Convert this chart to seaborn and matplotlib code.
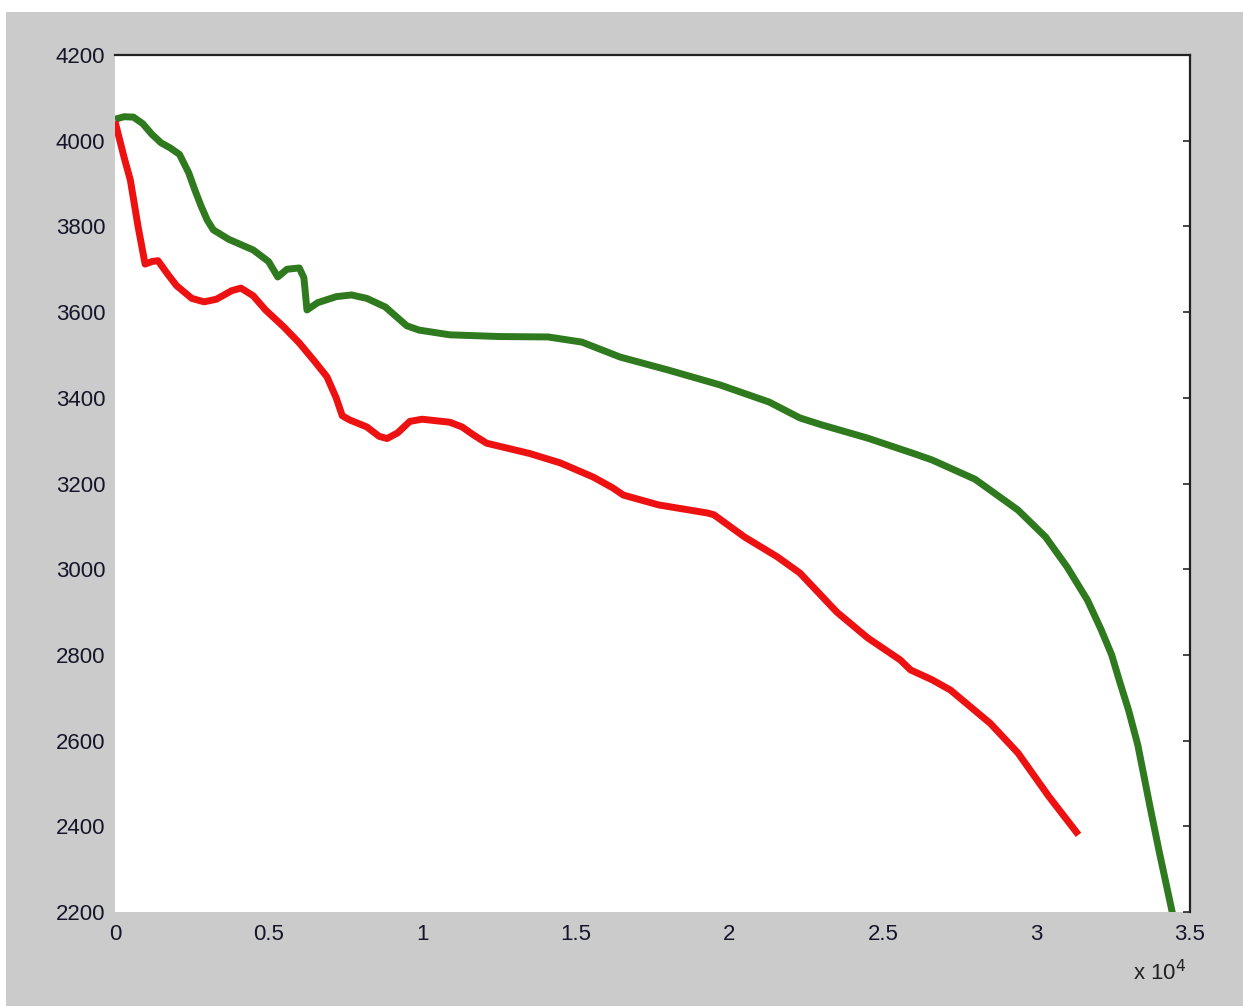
import matplotlib
matplotlib.use("Agg")
import matplotlib.pyplot as plt
import seaborn as sns
import pandas as pd
from matplotlib.patches import Rectangle

# ---- data (x in raw units; axis shows x 10^4) ----
green_x = [0.00, 0.03, 0.06, 0.09, 0.12, 0.15, 0.18, 0.21, 0.24, 0.26, 0.28, 0.30, 0.32, 0.37,
           0.45, 0.50, 0.53, 0.56, 0.60, 0.615, 0.625, 0.66, 0.72, 0.77, 0.82, 0.88, 0.95, 0.99,
           1.09, 1.25, 1.41, 1.52, 1.645, 1.80, 1.97, 2.13, 2.23, 2.30, 2.45, 2.60, 2.66, 2.80,
           2.94, 3.03, 3.10, 3.166, 3.21, 3.245, 3.27, 3.30, 3.33, 3.37, 3.40, 3.445]
green_y = [4050, 4056, 4055, 4040, 4015, 3995, 3983, 3968, 3925, 3885, 3848, 3815, 3792, 3770,
           3745, 3718, 3682, 3700, 3703, 3680, 3605, 3622, 3636, 3640, 3632, 3612, 3568, 3558,
           3547, 3543, 3542, 3530, 3495, 3465, 3430, 3390, 3353, 3337, 3306, 3270, 3255, 3210,
           3138, 3075, 3005, 2928, 2860, 2800, 2740, 2671, 2590, 2445, 2340, 2190]

red_x = [0.00, 0.03, 0.05, 0.075, 0.098, 0.12, 0.14, 0.17, 0.20, 0.25, 0.29, 0.33, 0.38, 0.41,
         0.45, 0.49, 0.55, 0.60, 0.65, 0.69, 0.72, 0.74, 0.765, 0.82, 0.86, 0.886, 0.92, 0.96,
         1.00, 1.09, 1.13, 1.17, 1.21, 1.35, 1.45, 1.557, 1.62, 1.655, 1.77, 1.93, 1.95, 2.05,
         2.156, 2.23, 2.35, 2.45, 2.557, 2.59, 2.66, 2.72, 2.85, 2.94, 3.04, 3.137]
red_y = [4045, 3960, 3908, 3800, 3712, 3718, 3720, 3690, 3662, 3632, 3624, 3630, 3650, 3656,
         3638, 3605, 3565, 3528, 3485, 3449, 3400, 3358, 3348, 3332, 3310, 3305, 3318, 3345,
         3350, 3343, 3332, 3312, 3294, 3270, 3248, 3215, 3190, 3173, 3150, 3131, 3127, 3075,
         3029, 2991, 2900, 2840, 2788, 2765, 2742, 2718, 2640, 2571, 2470, 2380]

x_ticks = [0, 5000, 10000, 15000, 20000, 25000, 30000, 35000]
x_tick_labels = ["0", "0.5", "1", "1.5", "2", "2.5", "3", "3.5"]
y_ticks = [2200, 2400, 2600, 2800, 3000, 3200, 3400, 3600, 3800, 4000, 4200]
y_tick_labels = [str(v) for v in y_ticks]

df = pd.concat([
    pd.DataFrame({"x": [v * 1e4 for v in green_x], "y": green_y, "s": "green"}),
    pd.DataFrame({"x": [v * 1e4 for v in red_x], "y": red_y, "s": "red"}),
])

sns.set_style("white")
plt.rcParams["font.family"] = ["Liberation Sans", "DejaVu Sans"]

W, H = 1243, 1006
fig = plt.figure(figsize=(W / 100, H / 100), dpi=100)
fig.patch.set_facecolor("#cbcbcb")
# white strips at the top and left edge (outside the axes)
fig.patches.append(Rectangle((0, 1 - 12 / H), 1, 12 / H, transform=fig.transFigure,
                             facecolor="white", edgecolor="none", zorder=-1))
fig.patches.append(Rectangle((0, 0), 6 / W, 1, transform=fig.transFigure,
                             facecolor="white", edgecolor="none", zorder=-1))

ax = fig.add_axes([115 / W, 1 - 912 / H, (1190 - 115) / W, (912 - 55) / H])
ax.set_facecolor("white")

sns.lineplot(data=df, x="x", y="y", hue="s", palette={"green": "#2f7a1f", "red": "#ee1111"},
             linewidth=5, legend=False, ax=ax, estimator=None, sort=False,
             solid_joinstyle="round", solid_capstyle="butt")

ax.set_xlim(0, 35000)
ax.set_ylim(2200, 4200)
ax.set_xticks(x_ticks)
ax.set_xticklabels(x_tick_labels)
ax.set_yticks(y_ticks)
ax.set_yticklabels(y_tick_labels)
ax.set_xlabel("")
ax.set_ylabel("")

for side in ["left", "bottom"]:
    ax.spines[side].set_visible(False)
for side in ["top", "right"]:
    ax.spines[side].set_visible(True)
    ax.spines[side].set_color("#222222")
    ax.spines[side].set_linewidth(1.6)

ax.tick_params(axis="y", left=False, right=True, direction="in", length=5, width=1.2,
               labelleft=True, labelright=False, labelsize=16, labelcolor="#15152a", pad=7)
ax.tick_params(axis="x", bottom=False, top=False, labelsize=16, labelcolor="#15152a", pad=5)

fig.text(1133 / W, 1 - 973 / H, r"x 10$^4$", fontsize=16, color="#222222",
         ha="left", va="center")

fig.savefig("out.png", dpi=100, facecolor=fig.get_facecolor())
